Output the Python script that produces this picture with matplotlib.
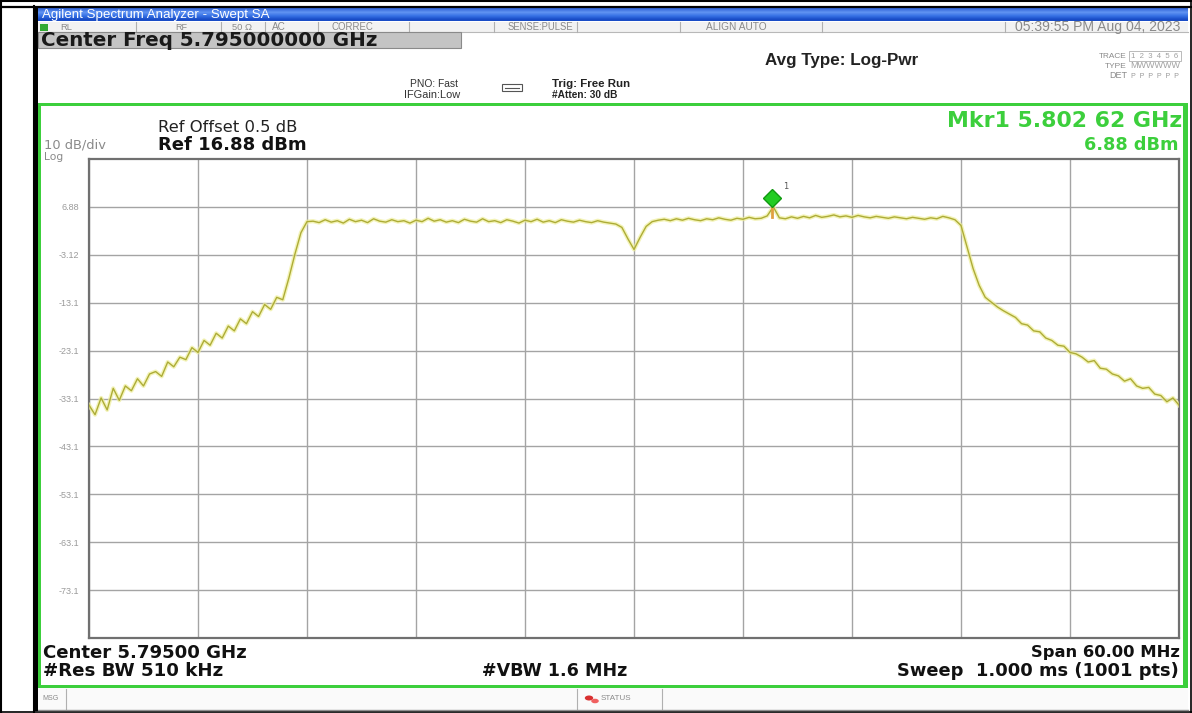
import numpy as np
import matplotlib
matplotlib.use("Agg")
import matplotlib.pyplot as plt
from matplotlib.patches import Rectangle
import matplotlib.transforms as mtransforms

# ---------------- data ----------------
center_ghz = 5.795
span_ghz = 0.060
n_points = 181
ref_level = 16.88
db_per_div = 10.0
y_tick_labels = ["6.88", "-3.12", "-13.1", "-23.1", "-33.1", "-43.1", "-53.1", "-63.1", "-73.1"]

trace_dbm = [
    -34.5, -36.5, -33.0, -35.5, -31.0, -33.5, -30.5, -31.5, -29.0, -30.5,
    -28.0, -27.5, -28.5, -25.5, -26.5, -24.5, -25.0, -22.5, -23.5, -21.0,
    -22.0, -19.5, -20.5, -18.0, -19.0, -16.5, -17.5, -15.0, -16.0, -13.5,
    -14.5, -12.0, -12.5, -8.0, -3.0, 1.5, 3.8,
    3.9, 3.6, 4.2, 3.7, 4.0, 3.5, 4.3, 3.8, 4.1, 3.6,
    4.4, 3.9, 3.7, 4.2, 3.8, 4.0, 3.5, 4.1, 3.8, 4.5,
    3.9, 4.2, 3.7, 4.0, 3.6, 4.3, 3.9, 3.7, 4.4, 3.8,
    4.0, 3.6, 4.2, 3.9, 3.5, 4.1, 3.8, 4.3, 3.7, 4.0,
    3.6, 4.2, 3.9, 3.7, 4.1, 3.8, 3.6, 4.0, 3.7, 3.5,
    3.3,
    2.6, 0.2, -2.0, 0.5, 2.8,
    3.8, 4.1, 4.3, 4.0, 4.4, 4.1, 4.5, 4.2, 4.0, 4.4,
    4.2, 4.6, 4.3, 4.1, 4.5, 4.3, 4.7, 4.4, 4.5, 5.0,
    6.9, 4.6, 4.4, 4.8, 4.5, 4.9, 4.6, 5.1, 4.7, 4.9,
    5.2, 4.8, 5.0, 4.7, 5.1, 4.8, 4.6, 4.9, 4.7, 4.5,
    4.8, 4.6, 4.4, 4.7, 4.5, 4.3, 4.6, 4.4, 4.9, 4.6,
    4.2,
    3.0, -1.5, -6.0, -9.5, -12.0, -13.0, -14.0,
    -14.8, -15.5, -16.2, -17.5, -17.8, -19.0, -19.2, -20.5, -21.0, -22.0,
    -22.2, -23.5, -23.8, -24.5, -25.5, -25.2, -26.8, -27.0, -28.0, -28.4,
    -29.5, -29.0, -30.5, -31.0, -30.8, -32.2, -32.5, -33.8, -33.0, -34.5,
]
marker_freq_ghz = 5.80262
marker_dbm = 6.88

# ---------------- figure helpers ----------------
W, H = 1192, 713
fig = plt.figure(figsize=(W / 100, H / 100), dpi=100)
fig.patch.set_facecolor("white")
renderer = fig.canvas.get_renderer()

def fx(x):
    return x / W

def fy(y):
    return 1 - y / H

def rect(x0, y0, x1, y1, color, ec="none", lw=0, z=1):
    fig.patches.append(Rectangle((fx(x0), fy(y1)), (x1 - x0) / W, (y1 - y0) / H,
                                 transform=fig.transFigure, facecolor=color,
                                 edgecolor=ec, linewidth=lw, zorder=z))

def hline(x0, x1, y, color, lw=1.0, z=2):
    fig.add_artist(plt.Line2D([fx(x0), fx(x1)], [fy(y), fy(y)], color=color,
                              linewidth=lw, transform=fig.transFigure, zorder=z))

def vline(x, y0, y1, color, lw=1.0, z=2):
    fig.add_artist(plt.Line2D([fx(x), fx(x)], [fy(y0), fy(y1)], color=color,
                              linewidth=lw, transform=fig.transFigure, zorder=z))

def txt(x, y, s, width=None, size=8, ha="left", color="black", weight="normal",
        family="Liberation Sans", z=5):
    t = fig.text(fx(x), fy(y), s, fontsize=size, ha=ha, va="center", color=color,
                 fontweight=weight, family=family, zorder=z)
    if width is not None:
        w = t.get_window_extent(renderer).width
        if w > 0:
            t.set_fontsize(size * width / w)
    return t

GREEN = "#3ccf3c"
GRAYTXT = "#8a8a8a"
DV = "DejaVu Sans"

# ---------------- outer document borders ----------------
hline(0, W, 1, "black", 1.5)
hline(0, W, 6.5, "black", 1.6)
vline(0.8, 0, H, "black", 1.5)
vline(33.5, 6, H, "black", 1.5)
vline(W - 1, 0, H, "black", 1.2)
hline(0, W, H - 1, "black", 1.2)

# screen black left edge
rect(34, 8, 38, 711, "black", z=2)

# ---------------- title bar (blue gradient) ----------------
tb = fig.add_axes([fx(38), fy(21.5), (1188 - 38) / W, 13.5 / H])
tb.set_axis_off()
grad = np.array([[0.20, 0.40, 0.85], [0.38, 0.58, 0.95], [0.22, 0.45, 0.90],
                 [0.10, 0.30, 0.78]])
tb.imshow(grad[:, None, :], aspect="auto", extent=[0, 1, 0, 1], interpolation="bilinear")
tb.set_xlim(0, 1); tb.set_ylim(0, 1)
txt(42, 15, "Agilent Spectrum Analyzer - Swept SA", width=230, color="white")

# ---------------- status row ----------------
rect(38, 21.5, 1188, 32, "#f2f2f2", z=1)
hline(38, 1188, 32, "#b8b8b8", 0.8)
for sx in [136, 221, 265, 318, 409, 494, 577, 680, 822, 1005]:
    vline(sx, 22, 32, "#b0b0b0", 0.8)
rect(40, 23.5, 48, 30.5, "#33aa33", z=3)
status_items = [(60, "RL", 12), (175, "RF", 12), (232, "50 \u03a9", 20), (272, "AC", 14),
                (332, "CORREC", 42), (508, "SENSE:PULSE", 66), (706, "ALIGN AUTO", 60),
                (1015, "05:39:55 PM Aug 04, 2023", 165)]
for sx, s, w in status_items:
    txt(sx, 27, s, width=w, color="#8a8a8a")

# ---------------- center freq box ----------------
rect(38, 32, 461, 47.5, "#c4c4c4", ec="#8a8a8a", lw=0.8, z=2)
txt(41, 40, "Center Freq 5.795000000 GHz", width=334, weight="bold",
    family=DV, color="#1a1a1a")

# ---------------- header text ----------------
txt(410, 84, "PNO: Fast", width=48, color="#333333")
txt(404, 95, "IFGain:Low", width=56, color="#333333")
rect(502, 84, 522, 91, "white", ec="#555555", lw=0.8, z=3)
fig.add_artist(plt.Line2D([fx(505), fx(519)], [fy(87.5), fy(87.5)], color="#555555",
                          lw=0.8, transform=fig.transFigure, zorder=4))
txt(552, 84, "Trig: Free Run", width=78, color="#222222", weight="bold")
txt(552, 95, "#Atten: 30 dB", width=66, color="#222222", weight="bold")
txt(765, 60, "Avg Type: Log-Pwr", width=153, color="#222222", weight="bold")
txt(1127, 56, "TRACE", width=28, ha="right", color=GRAYTXT)
txt(1127, 66, "TYPE", width=22, ha="right", color=GRAYTXT)
txt(1127, 76, "DET", width=18, ha="right", color=GRAYTXT)
rect(1129, 51, 1181, 61, "white", ec="#b0b0b0", lw=0.6, z=2)
txt(1131, 56, "1  2  3  4  5  6", width=48, color="#a0a0a0")
txt(1130, 66, "MWWWWW", width=50, color="#a0a0a0")
txt(1131, 76, "P  P  P  P  P  P", width=48, color="#9a9a9a")

# green separator + plot area borders
rect(38, 102.5, 1188, 106, GREEN, z=3)
rect(38, 102.5, 41, 688, GREEN, z=3)
rect(1183, 102.5, 1188, 688, GREEN, z=3)
rect(38, 685, 1188, 688, GREEN, z=3)

# ---------------- plot annotations ----------------
txt(158, 128, "Ref Offset 0.5 dB", width=140, color="#222222", family=DV)
txt(158, 145, "Ref 16.88 dBm", width=149, weight="bold", color="#111111", family=DV)
txt(44, 145, "10 dB/div", width=62, color=GRAYTXT, family=DV)
txt(44, 156.5, "Log", width=19, color=GRAYTXT, family=DV)
txt(1182, 121, "Mkr1 5.802 62 GHz", width=235, ha="right", weight="bold", color=GREEN,
    family=DV)
txt(1179, 145, "6.88 dBm", width=94, ha="right", weight="bold", color=GREEN, family=DV)

# ---------------- spectrum axes ----------------
gx0, gx1, gy0, gy1 = 89, 1179, 159, 638
ax = fig.add_axes([fx(gx0), fy(gy1), (gx1 - gx0) / W, (gy1 - gy0) / H])
ax.set_facecolor("white")
start = center_ghz - span_ghz / 2
stop = center_ghz + span_ghz / 2
freqs = np.linspace(start, stop, n_points)
ax.set_xlim(start, stop)
bottom = ref_level - 10 * db_per_div
ax.set_ylim(bottom, ref_level)
ax.set_xticks(np.linspace(start, stop, 11))
ax.set_yticks([ref_level - db_per_div * (k + 1) for k in range(9)])
ax.set_yticklabels(y_tick_labels)
ax.set_xticklabels([])
ax.tick_params(axis="both", length=0)
ax.tick_params(axis="y", pad=7, labelsize=6.5, labelcolor="#9a9a9a")
for lab in ax.get_yticklabels():
    lab.set_family("Liberation Sans")
ax.grid(True, color="#a4a4a4", linewidth=1.0)
for sp in ax.spines.values():
    sp.set_color("#707070")
    sp.set_linewidth(1.6)

ax.plot(freqs, trace_dbm, color="#eeee9a", linewidth=3.0, alpha=0.7, zorder=3)
ax.plot(freqs, trace_dbm, color="#adac36", linewidth=1.0, zorder=4)

# marker
ax.plot([marker_freq_ghz, marker_freq_ghz], [marker_dbm - 2.2, marker_dbm],
        color="#e0a040", linewidth=2.0, zorder=5)
off = mtransforms.offset_copy(ax.transData, fig=fig, x=0, y=9, units="dots")
ax.plot([marker_freq_ghz], [marker_dbm], marker="D", markersize=9,
        markerfacecolor="#22cc22", markeredgecolor="#119911", transform=off,
        zorder=6, clip_on=False)
off2 = mtransforms.offset_copy(ax.transData, fig=fig, x=13, y=20, units="dots")
ax.text(marker_freq_ghz, marker_dbm, "1", transform=off2, fontsize=6,
        color="#555555", ha="center", va="center")

# ---------------- bottom annotations ----------------
txt(43, 653, "Center 5.79500 GHz", width=204, weight="bold", color="#111111", family=DV)
txt(43, 671, "#Res BW 510 kHz", width=180, weight="bold", color="#111111", family=DV)
txt(482, 671, "#VBW 1.6 MHz", width=145, weight="bold", color="#111111", family=DV)
txt(1180, 653, "Span 60.00 MHz", width=148, ha="right", weight="bold", color="#111111",
    family=DV)
txt(1179, 671, "Sweep  1.000 ms (1001 pts)", width=280, ha="right", weight="bold",
    color="#111111", family=DV)

# ---------------- message / status bar ----------------
rect(38, 688, 1188, 710, "#fafafa", z=1)
vline(66, 689, 709, "#b0b0b0", 0.8)
vline(577, 689, 709, "#b0b0b0", 0.8)
vline(662, 689, 709, "#b0b0b0", 0.8)
hline(38, 1188, 710, "#909090", 1.0)
txt(42, 699, "MSG", width=16, color="#8a8a8a")
fig.patches.append(plt.Circle((fx(589), fy(698)), 4.2 / W, transform=fig.transFigure,
                              facecolor="#d83030", edgecolor="none", zorder=3))
fig.patches.append(plt.Circle((fx(595), fy(701)), 3.8 / W, transform=fig.transFigure,
                              facecolor="#f06060", edgecolor="none", zorder=3))
txt(601, 698, "STATUS", width=30, color="#8a8a8a")

fig.savefig("out.png", dpi=100, facecolor="white")
